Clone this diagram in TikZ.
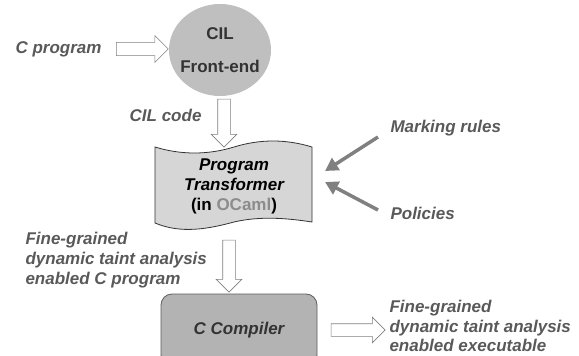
\documentclass[tikz,border=0pt]{standalone}
\usepackage{fontspec}
\setmainfont{Liberation Sans}
\usepackage{xcolor}
\usepackage{tikz}
\usetikzlibrary{shapes.geometric,shapes.arrows,arrows.meta}
\definecolor{labelgray}{HTML}{595959}
\definecolor{darktext}{HTML}{333333}
\definecolor{camlgray}{HTML}{8C8C8C}
\definecolor{frontfill}{HTML}{BFBFBF}
\definecolor{transfill}{HTML}{D6D6D6}
\definecolor{compfill}{HTML}{B3B3B3}
\definecolor{arrowgray}{HTML}{808080}
\tikzset{
    every node/.style={
        font=\fontsize{17}{20}\selectfont\bfseries
    },
    label text/.style={
        text=labelgray,
        font=\fontsize{17}{20}\selectfont\bfseries\itshape,
        align=left
    },
    block arrow/.style={
        single arrow,
        draw=arrowgray,
        fill=white,
        line width=0.6pt,
        minimum width=25pt,
        single arrow head extend=6.5pt,
        inner xsep=0pt,
        inner ysep=6pt
    },
    input arrow/.style={
        draw=arrowgray,
        line width=3.5pt,
        -{Triangle[length=13pt,width=14pt]}
    }
}

\begin{document}
\begin{tikzpicture}[x=1pt, y=-1pt]
\useasboundingbox (0,0) rectangle (579,356);

% front end
\node[ellipse, fill=frontfill, minimum width=102pt, minimum height=92pt] (cil) at (220,50) {};
\node[text=darktext, align=center] (ciltext) at (cil.center) {CIL\\[13pt]Front-end};

% transformer (wavy sheet)
\draw[draw=darktext, fill=transfill, line width=0.8pt]
    (155,147) .. controls (181,155) and (208,155) .. (234,147)
    .. controls (260,139) and (286,139) .. (312,147)
    -- (312,222) .. controls (286,218) and (260,216) .. (234,222)
    .. controls (208,229) and (181,234) .. (155,223) -- cycle;
\node[align=center, text=black] (trans) at (234,186)
    {\itshape Program\\\itshape Transformer\\(in \textcolor{camlgray}{OCaml})};

% compiler
\node[draw=darktext!80, fill=compfill, rounded corners=11pt, line width=0.8pt,
    minimum width=156pt, minimum height=72pt] (comp) at (239,330)
    {\textcolor{darktext}{\itshape C Compiler}};

% labels
\node[label text, anchor=west] (cprog) at (12,49) {C program};
\node[label text, anchor=east] (cilcode) at (205,115) {CIL code};
\node[label text, anchor=west] (marking) at (387,128) {Marking rules};
\node[label text, anchor=west] (policies) at (387,213) {Policies};
\node[label text, anchor=west] (fgprog) at (22,260)
    {Fine-grained\\dynamic taint analysis\\enabled C program};
\node[label text, anchor=west, font=\fontsize{17}{19.5}\selectfont\bfseries\itshape]
    (fgexec) at (386,326)
    {Fine-grained\\dynamic taint analysis\\enabled executable};

% hollow arrows
\node[block arrow, minimum height=52pt, minimum width=27pt] (a1) at (139,49) {};
\node[block arrow, minimum height=48pt, rotate=-90] (a2) at (224,120) {};
\node[block arrow, minimum height=52pt, rotate=-90] (a3) at (229,263) {};
\node[block arrow, minimum height=54pt, minimum width=24pt] (a4) at (355,330) {};

% rules and policies
\coordinate (mk) at (378,137);
\coordinate (po) at (378,210);
\coordinate (mkend) at (325,171);
\coordinate (poend) at (325,182);
\draw[input arrow] (mk) -- (mkend);
\draw[input arrow] (po) -- (poend);
\end{tikzpicture}
\end{document}
